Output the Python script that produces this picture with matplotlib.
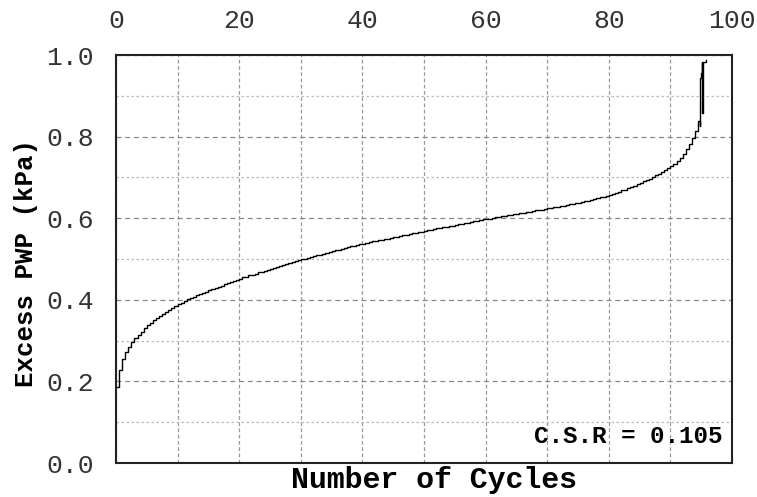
import numpy as np
import matplotlib
matplotlib.use("Agg")
import matplotlib.pyplot as plt

# Excess pore-water pressure recorded every half cycle of loading
pwp_half_cycles = [
    # 0 - 9.5
    0.186, 0.228, 0.255, 0.273, 0.285, 0.297, 0.306, 0.314, 0.322, 0.330,
    0.338, 0.344, 0.350, 0.355, 0.360, 0.365, 0.370, 0.375, 0.380, 0.385,
    # 10 - 19.5
    0.390, 0.393, 0.397, 0.401, 0.404, 0.408, 0.411, 0.414, 0.417, 0.420,
    0.423, 0.426, 0.429, 0.432, 0.435, 0.438, 0.441, 0.444, 0.446, 0.449,
    # 20 - 29.5
    0.452, 0.455, 0.457, 0.460, 0.462, 0.464, 0.467, 0.469, 0.471, 0.473,
    0.475, 0.478, 0.480, 0.482, 0.485, 0.487, 0.490, 0.492, 0.494, 0.497,
    # 30 - 39.5
    0.499, 0.501, 0.503, 0.505, 0.507, 0.509, 0.511, 0.513, 0.515, 0.517,
    0.519, 0.521, 0.523, 0.525, 0.527, 0.529, 0.531, 0.533, 0.535, 0.536,
    # 40 - 49.5
    0.538, 0.540, 0.541, 0.543, 0.544, 0.546, 0.547, 0.549, 0.550, 0.552,
    0.554, 0.555, 0.557, 0.558, 0.560, 0.561, 0.563, 0.564, 0.566, 0.567,
    # 50 - 59.5
    0.569, 0.570, 0.572, 0.573, 0.575, 0.576, 0.578, 0.579, 0.580, 0.582,
    0.583, 0.585, 0.586, 0.588, 0.589, 0.591, 0.592, 0.594, 0.595, 0.597,
    # 60 - 69.5
    0.598, 0.599, 0.601, 0.602, 0.603, 0.605, 0.606, 0.607, 0.608, 0.610,
    0.611, 0.612, 0.614, 0.615, 0.616, 0.618, 0.619, 0.620, 0.621, 0.623,
    # 70 - 79.5
    0.624, 0.625, 0.627, 0.628, 0.629, 0.631, 0.632, 0.634, 0.635, 0.637,
    0.638, 0.640, 0.641, 0.643, 0.645, 0.647, 0.649, 0.651, 0.653, 0.655,
    # 80 - 89.5
    0.657, 0.660, 0.662, 0.665, 0.668, 0.670, 0.673, 0.676, 0.680, 0.683,
    0.686, 0.690, 0.694, 0.697, 0.701, 0.705, 0.709, 0.713, 0.718, 0.723,
    # 90 - 94.5
    0.728, 0.734, 0.740, 0.748, 0.757, 0.770, 0.782, 0.796, 0.814, 0.839,
]

# Final readings around liquefaction
tail_cycles = [94.8, 94.85, 95.0, 95.2, 95.2, 95.25, 95.7]
tail_pwp = [0.826, 0.943, 0.955, 0.984, 0.859, 0.984, 0.989]

cycles = list(np.arange(len(pwp_half_cycles)) * 0.5) + tail_cycles
pwp = pwp_half_cycles + tail_pwp

x_ticks = [0, 20, 40, 60, 80, 100]
y_ticks = [0.0, 0.2, 0.4, 0.6, 0.8, 1.0]
csr_text = "C.S.R = 0.105"

mono = "Liberation Mono"

fig = plt.figure(figsize=(7.57, 4.97), dpi=100)
ax = fig.add_axes([0.1532, 0.0684, 0.8138, 0.8209])

ax.plot(cycles, pwp, color="black", lw=1.0, drawstyle="steps-post", zorder=3)

ax.set_xlim(0, 100)
ax.set_ylim(0, 1.0)
ax.set_xticks(x_ticks)
ax.set_xticks(np.arange(10, 100, 20), minor=True)
ax.set_yticks(y_ticks)
ax.set_yticks(np.arange(0.1, 1.0, 0.2), minor=True)
ax.set_yticklabels([f"{v:.1f}" for v in y_ticks])

ax.xaxis.tick_top()
ax.tick_params(axis="both", which="both", length=0, pad=16)
ax.tick_params(axis="both", which="major", labelsize=19)
for lab in ax.get_xticklabels() + ax.get_yticklabels():
    lab.set_fontfamily(mono)
    lab.set_color("#333333")

# Grid: dashed at major positions, lighter dotted in between
ax.grid(True, which="major", axis="y", color="#888888", ls=(0, (4, 3)), lw=0.9)
ax.grid(True, which="minor", axis="y", color="#bbbbbb", ls=(0, (2, 2)), lw=0.9)
ax.grid(True, which="both", axis="x", color="#999999", ls=(0, (3, 2)), lw=0.9)

for sp in ax.spines.values():
    sp.set_linewidth(1.5)
    sp.set_color("#222222")

ax.set_xlabel("Number of Cycles", fontfamily=mono, fontweight="bold",
              fontsize=21.5)
ax.xaxis.set_label_position("bottom")
ax.xaxis.set_label_coords(0.516, -0.008, transform=ax.transAxes)
ax.xaxis.label.set_va("top")
ax.set_ylabel("Excess PWP (kPa)", fontfamily=mono, fontweight="bold",
              fontsize=18.5)
ax.yaxis.set_label_coords(-0.127, 0.49)

ax.text(0.985, 0.037, csr_text, transform=ax.transAxes, ha="right", va="bottom",
        fontfamily=mono, fontweight="bold", fontsize=17.5)

fig.savefig("out.png", dpi=100)
